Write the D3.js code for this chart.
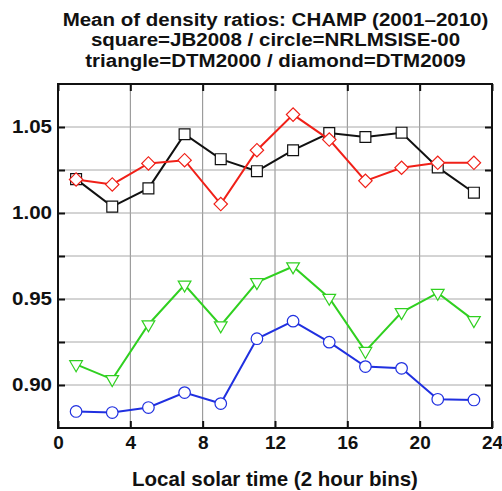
<!DOCTYPE html>
<html>
<head>
<meta charset="utf-8">
<script src="https://cdn.jsdelivr.net/npm/d3@7"></script>
<style>
  html, body { margin: 0; padding: 0; background: #fff; }
  svg { display: block; }
  text { font-family: "Liberation Sans", Arial, Helvetica, sans-serif; font-weight: bold; fill: #111; }
</style>
</head>
<body>
<script>
// Local solar time bin centres (hours)
const hours = [1, 3, 5, 7, 9, 11, 13, 15, 17, 19, 21, 23];

// Mean density ratios per model
const jb2008    = [1.0197, 1.0037, 1.0143, 1.0458, 1.0313, 1.0243, 1.0365, 1.0465, 1.0442, 1.0467, 1.0265, 1.0118];
const nrlmsise  = [0.8846, 0.8840, 0.8869, 0.8956, 0.8892, 0.9269, 0.9371, 0.9249, 0.9107, 0.9097, 0.8917, 0.8913];
const dtm2000   = [0.9120, 0.9033, 0.9352, 0.9583, 0.9346, 0.9597, 0.9689, 0.9506, 0.9197, 0.9423, 0.9535, 0.9376];
const dtm2009   = [1.0195, 1.0166, 1.0288, 1.0307, 1.0052, 1.0365, 1.0572, 1.0427, 1.0187, 1.0263, 1.0292, 1.0292];

// Axis ticks
const xTicks = [0, 4, 8, 12, 16, 20, 24];
const yTicks = [0.90, 0.95, 1.00, 1.05];
const yMinorTicks = [0.925, 0.975, 1.025];

const titleLines = [
  "Mean of density ratios: CHAMP (2001\u20132010)",
  "square=JB2008 / circle=NRLMSISE-00",
  "triangle=DTM2000 / diamond=DTM2009"
];
const xLabel = "Local solar time (2 hour bins)";

const W = 502, H = 491;
const m = { left: 58, right: 10, top: 84, bottom: 63 };

const svg = d3.select("body").append("svg").attr("width", W).attr("height", H);

const x = d3.scaleLinear().domain([0, 24]).range([m.left, W - m.right]);
const y = d3.scaleLinear().domain([0.875, 1.075]).range([H - m.bottom, m.top]);

// Grid lines
const grid = svg.append("g");
grid.selectAll("line.gx").data(xTicks.slice(1, -1)).join("line")
  .attr("x1", d => x(d)).attr("x2", d => x(d))
  .attr("y1", y.range()[1]).attr("y2", y.range()[0])
  .attr("stroke", "#8a8a8a").attr("stroke-width", 1);
grid.selectAll("line.gy").data(yTicks.concat(yMinorTicks)).join("line")
  .attr("x1", x.range()[0]).attr("x2", x.range()[1])
  .attr("y1", d => y(d)).attr("y2", d => y(d))
  .attr("stroke", "#a8a8a8").attr("stroke-width", 1);

// Axes with inward ticks
const tickLen = 7;
const allY = yTicks.concat(yMinorTicks);
const axLeft = svg.append("g").attr("transform", `translate(${x.range()[0]},0)`)
  .call(d3.axisLeft(y).tickValues(allY).tickSize(-tickLen).tickPadding(6)
    .tickFormat(d => yTicks.includes(d) ? d3.format(".2f")(d) : ""));
const axRight = svg.append("g").attr("transform", `translate(${x.range()[1]},0)`)
  .call(d3.axisRight(y).tickValues(allY).tickSize(-tickLen).tickFormat(""));
const axBottom = svg.append("g").attr("transform", `translate(0,${y.range()[0]})`)
  .call(d3.axisBottom(x).tickValues(xTicks).tickSize(-tickLen).tickPadding(8).tickFormat(d3.format("d")));
const axTop = svg.append("g").attr("transform", `translate(0,${y.range()[1]})`)
  .call(d3.axisTop(x).tickValues(xTicks).tickSize(-tickLen).tickFormat(""));

[axLeft, axRight, axBottom, axTop].forEach(g => {
  g.select(".domain").remove();
  g.selectAll(".tick line").attr("stroke", "#111").attr("stroke-width", 2);
  g.selectAll(".tick text").style("font-size", "19px").attr("fill", "#111");
});
// Wide numerals on the value axis
axLeft.selectAll(".tick text")
  .filter(function () { return this.textContent !== ""; })
  .style("font-size", "18px")
  .attr("textLength", 40).attr("lengthAdjust", "spacingAndGlyphs");

// Plot frame
svg.append("rect")
  .attr("x", x.range()[0]).attr("y", y.range()[1])
  .attr("width", x.range()[1] - x.range()[0])
  .attr("height", y.range()[0] - y.range()[1])
  .attr("fill", "none").attr("stroke", "#111").attr("stroke-width", 2);

// Series
const series = [
  { vals: nrlmsise, color: "#2030e0", symbol: d3.symbolCircle,   size: 105, rot: 0 },
  { vals: dtm2000,  color: "#30d020", symbol: d3.symbolTriangle, size: 70,  rot: 180 },
  { vals: jb2008,   color: "#111111", symbol: d3.symbolSquare,   size: 118, rot: 0 },
  { vals: dtm2009,  color: "#f02018", symbol: d3.symbolSquare,   size: 90,  rot: 45 }
];

const line = d3.line().x(d => x(d[0])).y(d => y(d[1]));

series.forEach(s => {
  const pts = hours.map((h, i) => [h, s.vals[i]]);
  const g = svg.append("g");
  g.append("path").attr("d", line(pts))
    .attr("fill", "none").attr("stroke", s.color).attr("stroke-width", 2);
  g.selectAll("path.mk").data(pts).join("path")
    .attr("class", "mk")
    .attr("d", d3.symbol().type(s.symbol).size(s.size))
    .attr("transform", d => `translate(${x(d[0])},${y(d[1])}) rotate(${s.rot})`)
    .attr("fill", "#fff").attr("stroke", s.color).attr("stroke-width", 1.2);
});

// Title: three tightly stacked lines, glyphs widened to the heading's span
const widen = 20.5 / 18;
titleLines.forEach((t, i) => {
  const tx = svg.append("text")
    .attr("x", 275.5).attr("y", 26 + i * 20.3)
    .attr("text-anchor", "middle").style("font-size", "18px").text(t);
  const len = tx.node().getComputedTextLength();
  tx.attr("textLength", len * widen).attr("lengthAdjust", "spacingAndGlyphs");
});

// X axis label
svg.append("text").attr("x", (x.range()[0] + x.range()[1]) / 2).attr("y", 485.5)
  .attr("text-anchor", "middle").style("font-size", "20.5px").text(xLabel);
</script>
</body>
</html>
